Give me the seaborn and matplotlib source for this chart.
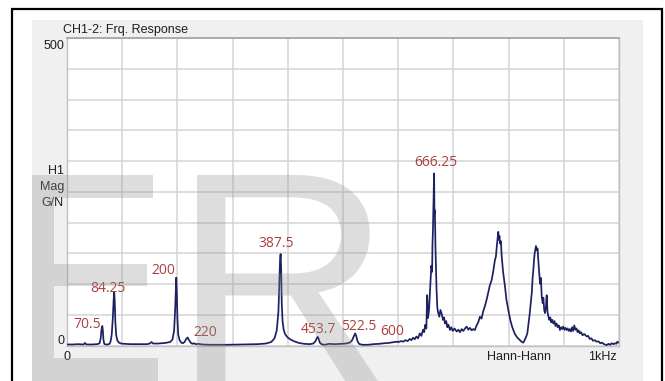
import numpy as np
import pandas as pd
import matplotlib
matplotlib.use("Agg")
import matplotlib.pyplot as plt
from matplotlib.patches import Rectangle, PathPatch
from matplotlib.textpath import TextPath
from matplotlib.font_manager import FontProperties
from matplotlib.transforms import Affine2D
import seaborn as sns

# ---------------- data ----------------
freq_hz = [0, 10, 20, 30, 32.5, 35, 45, 55, 59, 61, 62.5, 64, 65, 66, 67.5, 70, 74, 77, 79, 81, 83, 84.5, 85.5,
           86.5, 87.5, 89, 91, 94, 98, 105, 115, 130, 145, 150, 153, 156, 165, 178, 187, 191, 194, 196, 197.5,
           198, 199, 200, 201.5, 204, 207, 210, 213, 216, 218.5, 221, 224, 227, 230, 233, 238, 245, 260, 290,
           320, 345, 360, 370, 376, 380, 383, 385, 386, 387, 388, 389, 390.5, 392.5, 395, 399, 405, 412, 420,
           430, 440, 446, 450, 452.5, 454, 456, 458, 461, 466, 475, 485, 495, 505, 512, 516, 519, 522, 524,
           526, 529, 535, 545, 555, 565, 575, 583, 590, 597, 601, 605, 609, 613, 617, 621, 624, 627, 630, 633,
           636, 639, 642, 645, 647, 649, 651, 652.5, 654, 656, 658, 660, 661.5, 662, 663, 664, 665, 665.7,
           666.5, 667.5, 668.5, 669.5, 670.8, 672, 674.5, 676.5, 678.8, 681, 683, 684.8, 687, 689, 691, 693.8,
           696, 699, 702, 706, 709, 712, 715, 718, 721, 724, 727, 730, 733, 736, 739, 742, 745, 748, 751, 754,
           757, 760, 763, 766, 769.4, 772, 775, 777, 779, 781.3, 782.5, 783.5, 784.4, 786, 787.5, 790, 793.5,
           796, 799.5, 803, 806, 808.5, 812, 816, 820.7, 824, 826.6, 829, 831.5, 833.9, 836, 838, 840, 841.9,
           843.5, 845, 846, 847.5, 849.6, 851, 852.5, 853.8, 855, 856.9, 858.5, 860, 861.8, 863, 864.5, 866,
           867.5, 869, 870.5, 872, 873.7, 875.5, 877, 879, 881, 883, 885, 887, 889, 891, 893, 895, 897, 899,
           901, 903, 905, 907, 909, 911, 913, 915, 917, 919, 921, 923, 925, 927, 929, 931, 934, 937, 941.5,
           944, 947, 950, 953, 956, 959.6, 963, 966, 969, 973, 977.7, 981, 984, 987, 990, 992.8, 995, 997, 999]
mag_gn = [2, 2, 2.5, 2, 4.5, 2, 2, 2.5, 4, 12, 26, 32, 24, 10, 3, 2, 2, 3, 7, 18, 45, 75, 87,
          72, 40, 18, 9, 5, 3.5, 3, 2.5, 2.5, 2.5, 3.5, 6, 3.5, 3.5, 4.5, 6, 10, 24, 60, 100,
          110.5, 85, 45, 18, 9, 5, 4, 6, 11, 13.5, 9, 5, 3, 4, 2.5, 3, 2, 1.5, 1.5,
          2, 2.5, 3.5, 6, 12, 25, 55, 110, 140, 149, 125, 70, 40, 26, 19, 14, 10, 7, 4.5,
          3, 2.5, 3.5, 7, 12, 14.5, 11, 5, 2.5, 1.5, 3, 2.5, 3, 3.5, 5, 8, 14, 20, 16,
          8, 3, 1.5, 1.5, 2.5, 3, 4, 4.5, 5.5, 6.5, 6, 7.5, 6.5, 9, 7.5, 11, 9, 13, 10.5, 15,
          12, 20, 16, 26, 22, 34, 28, 82, 45, 60, 95, 130, 120, 161, 190, 240, 280, 215,
          220, 160, 128, 90, 63, 55, 47, 58, 52, 42, 46, 36, 40, 30, 34, 25.5,
          30, 24, 28, 23, 26, 22, 27, 24, 28, 31, 26, 29, 25, 27, 25.5, 33, 38, 47, 44, 56,
          64, 74, 86, 98, 107, 120, 138, 145, 165, 185, 172, 178, 166, 170, 145, 120, 96,
          75, 58, 42, 32, 25.5, 18, 13, 9, 6, 5, 9, 14, 20, 35, 50, 68, 85,
          110, 125, 139, 152, 162, 155, 158, 139, 125, 101, 110, 80, 69, 78, 58, 53,
          62, 82, 55, 48, 42, 46, 38, 42, 36, 40, 32, 36, 30, 33, 25.5, 30, 27, 31,
          26, 29, 25.5, 28, 24, 27, 23, 30, 24, 33, 26, 28, 22, 25, 20, 22, 17, 19, 15,
          16, 11, 12, 8, 9, 6.5, 7, 4, 5, 2.5, 1, 3, 1.5, 4, 2.5, 4, 3, 6.5, 5]

peak_labels = ["70.5", "84.25", "200", "220", "387.5", "453.7", "522.5", "600", "666.25"]
label_freq = [36, 74, 174, 250, 378.6, 456, 528.7, 589, 667.6]
label_mag = [34, 93, 122.5, 22, 166, 26.6, 32, 22.8, 297]

x_limits = [0, 1000]
y_limits = [0, 500]
y_tick_labels = ["0", "500"]
x_tick_labels = ["0", "Hann-Hann", "1kHz"]
title_text = "CH1-2: Frq. Response"
y_axis_lines = ["H1", "Mag", "G/N"]
watermark_letters = ["E", "R"]

# ---------------- figure ----------------
sns.set_style("white")
plt.rcParams['font.family'] = ['Liberation Sans', 'DejaVu Sans']

W, H = 665, 381
fig = plt.figure(figsize=(W / 100, H / 100), dpi=100, facecolor="white")


def fx(px):
    return px / W


def fy(py):
    return 1 - py / H


# outer frame and grey panel
fig.add_artist(Rectangle((fx(11.5), fy(420)), fx(662) - fx(11.5), fy(9.5) - fy(420),
                         transform=fig.transFigure, fill=False, edgecolor="black",
                         linewidth=1.6, zorder=-2))
fig.add_artist(Rectangle((fx(32), fy(400)), fx(643) - fx(32), fy(20) - fy(400),
                         transform=fig.transFigure, facecolor="#f0f0f0", edgecolor="none",
                         zorder=-1))

ax_l, ax_r, ax_t, ax_b = 67, 619, 38, 345.7
ax = fig.add_axes([fx(ax_l), fy(ax_b), fx(ax_r) - fx(ax_l), fy(ax_t) - fy(ax_b)])
ax.set_facecolor("white")

df = pd.DataFrame({"freq": freq_hz, "mag": mag_gn})
sns.lineplot(data=df, x="freq", y="mag", ax=ax, color="#1c2160", linewidth=1.25,
             estimator=None, sort=False, zorder=3)

ax.set_xlim(*x_limits)
ax.set_ylim(*y_limits)
ax.set_xticks(np.arange(0, 1001, 100))
ax.set_yticks(np.arange(0, 501, 50))
ax.set_xticklabels([])
ax.set_yticklabels([])
ax.tick_params(length=0)
ax.grid(True, color="#d4d4d4", linewidth=1.1)
ax.set_xlabel("")
ax.set_ylabel("")
for side in ["left", "bottom", "right"]:
    ax.spines[side].set_color("#c0c0c0")
    ax.spines[side].set_linewidth(1.0)
ax.spines["top"].set_color("#a0a0a0")
ax.spines["top"].set_linewidth(1.2)

# peak labels
for txt, xf, ym in zip(peak_labels, label_freq, label_mag):
    ax.text(xf, ym, txt, ha="center", va="center", color="#a8403f", fontsize=10,
            family=["Open Sans", "DejaVu Sans"], zorder=4)

# axis texts
fs = 9
tc = "#202020"
fig.text(fx(63), fy(30), title_text, ha="left", va="center", fontsize=fs, color=tc)
fig.text(fx(64), fy(46), y_tick_labels[1], ha="right", va="center", fontsize=fs, color=tc)
fig.text(fx(64), fy(341.5), y_tick_labels[0], ha="right", va="center", fontsize=fs, color=tc)
for i, line in enumerate(y_axis_lines):
    fig.text(fx(64), fy(171 + 16 * i), line, ha="right", va="center", fontsize=fs, color=tc)
fig.text(fx(67), fy(357), x_tick_labels[0], ha="center", va="center", fontsize=fs, color=tc)
fig.text(fx(518.5), fy(357.5), x_tick_labels[1], ha="center", va="center", fontsize=fs, color=tc)
fig.text(fx(617), fy(357.5), x_tick_labels[2], ha="right", va="center", fontsize=fs, color=tc)

# watermark letters, fitted to their boxes in the picture (pixels)
wm_boxes = [(32, 158, 175, 381), (197, 378, 175, 381)]
for letter, (x0, x1, yt, yb) in zip(watermark_letters, wm_boxes):
    tp = TextPath((0, 0), letter, size=100, prop=FontProperties(family="Liberation Sans"))
    ext = tp.get_extents()
    tr = (Affine2D().translate(-ext.x0, -ext.y0)
          .scale((x1 - x0) / ext.width / W, (yb - yt) / ext.height / H)
          .translate(x0 / W, (H - yb) / H))
    patch = PathPatch(tr.transform_path(tp), transform=fig.transFigure,
                      facecolor="#909090", edgecolor="none", alpha=0.3, zorder=5)
    fig.add_artist(patch)

fig.savefig("out.png", dpi=100, facecolor="white")
